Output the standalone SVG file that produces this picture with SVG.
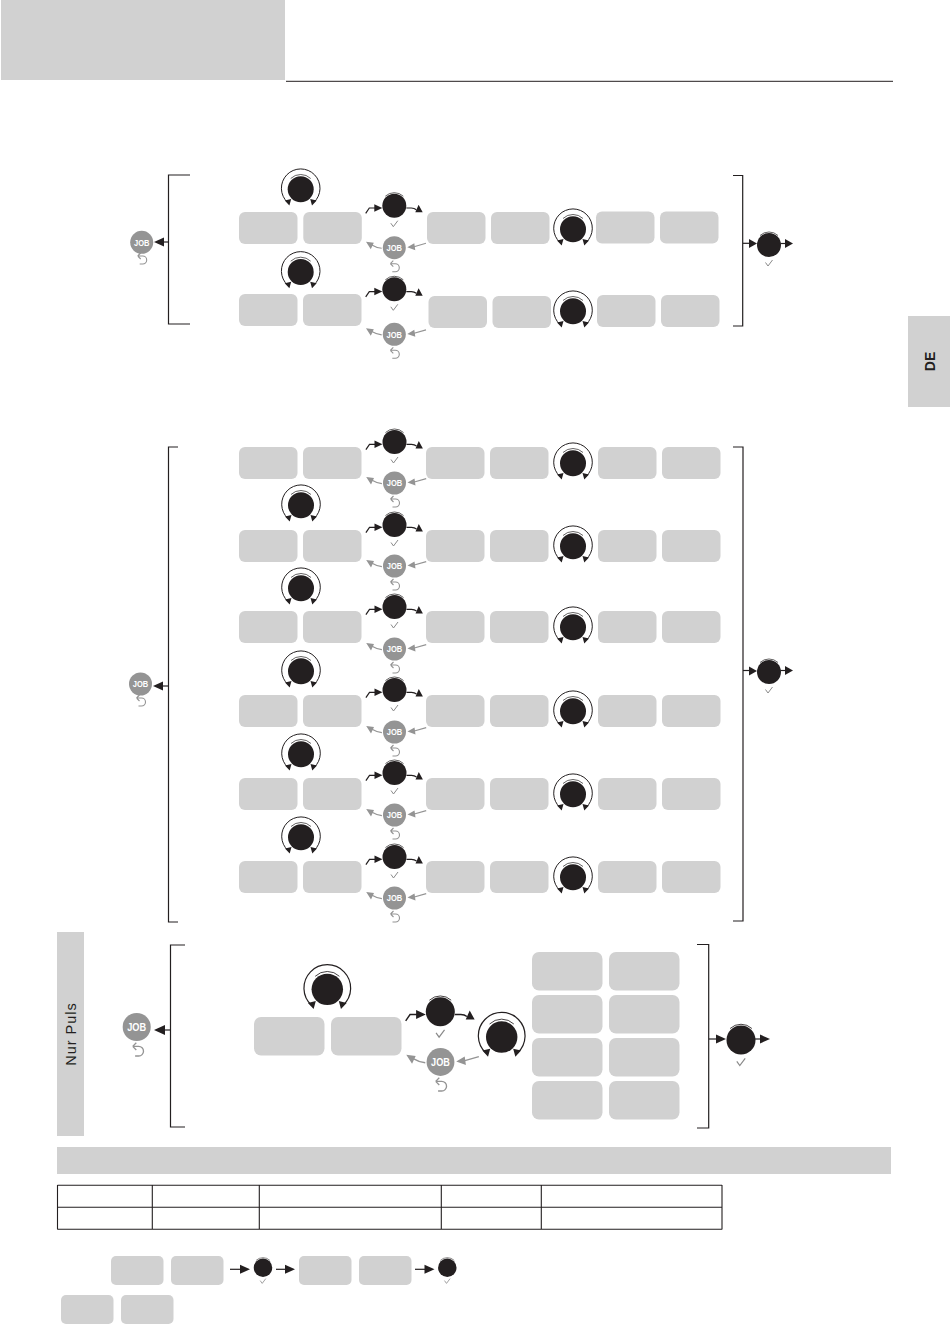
<svg xmlns="http://www.w3.org/2000/svg" width="950" height="1344" viewBox="0 0 950 1344">
<style>
.p{fill:#d1d1d1}
.l{fill:none;stroke:#231f20;stroke-width:1.2}
.g{fill:none;stroke:#949494;stroke-width:1.1}
.a{fill:#231f20}
.b{fill:#949494}
.t{font-family:"Liberation Sans",Arial,sans-serif;font-weight:700;fill:#fff;text-anchor:middle}
</style>
<defs>
<rect id="r1" class="p" x="0" y="0" width="58.5" height="32" rx="6"/>
<rect id="r2" class="p" x="0" y="0" width="70.5" height="38.5" rx="7"/>
<rect id="r3" class="p" x="0" y="0" width="52.5" height="29" rx="5"/>
<path id="mark" d="M-3.5 -0.5 L-1 3 L3.5 -3" fill="none" stroke="#8a8a8a" stroke-width="1"/>
<path id="undo" d="M-4 -3 L-1 -6 M-4 -3 L-1 0 M-4 -3 H1 A3.8 3.8 0 0 1 1 5 H-2" fill="none" stroke="#949494" stroke-width="1.1"/>
<g id="knob"><circle class="a" cx="0" cy="0.3" r="13"/><path d="M-10 -10.500 A14.500 14.500 0 0 1 10 -10.500" fill="none" stroke="#231f20" stroke-width=".7"/><path d="M-13 13.500 A19.300 19.300 0 1 1 13 13.500" fill="none" stroke="#231f20" stroke-width="1"/><path class="a" d="M-11.300 16.500 L-16 11.500 L-9.500 10Z M11.300 16.500 L16 11.500 L9.500 10Z"/></g>
<g id="btn"><circle class="a" cx="0" cy="0" r="12"/><path d="M-9 -9.500 A13.300 13.300 0 0 1 9 -9.500" fill="none" stroke="#231f20" stroke-width=".7"/></g>
<g id="job"><circle class="b" cx="0" cy="0" r="11.500"/><text class="t" x="0" y="3.300" font-size="9.500" textLength="15.500" lengthAdjust="spacingAndGlyphs">JOB</text></g>
<g id="go"><use href="#btn"/><use href="#mark" y="18"/><path class="l" d="M-28.600 7.600 L-25 2.300 L-17 2.300 M12 2.300 H17 Q20 2.300 22 4"/><path class="a" d="M-12 2.300 L-20 -1.500 L-20 6Z M21 6.500 L28.400 6.500 L24.300 -1Z"/></g>
<g id="back"><use href="#job"/><use href="#undo" y="19"/><path class="g" d="M-12.600 0.600 Q-18 0 -23 -3 M31.700 -4.400 L18 -0.500"/><path class="b" d="M-28.300 -6 L-20.500 -5 L-23.500 1.500Z M13 -0.400 L20 -4.500 L21 2.500Z"/></g>
<g id="row"><use href="#r1"/><use href="#r1" x="64"/><use href="#r1" x="187"/><use href="#r1" x="251"/><use href="#knob" x="334" y="16"/><use href="#r1" x="359"/><use href="#r1" x="423"/></g>
</defs>
<g id="header"><rect class="p" x="1" y="0" width="284" height="80"/><path d="M286 81.300 H893" fill="none" stroke="#231f20" stroke-width="1"/></g>
<g id="tab-de"><rect class="p" x="908" y="316" width="42" height="91"/><text transform="translate(935 361.500) rotate(-90)" font-family="Liberation Sans,Arial,sans-serif" font-size="14" font-weight="700" fill="#231f20" text-anchor="middle">DE</text></g>
<g id="section-1">
<g id="s1-row1"><use href="#r1" x="239" y="212"/><use href="#r1" x="303.300" y="212"/><use href="#r1" x="427" y="212"/><use href="#r1" x="491" y="212"/><use href="#knob" x="573" y="229"/><use href="#r1" x="596" y="211.500"/><use href="#r1" x="660" y="211.500"/></g>
<g id="s1-row2"><use href="#r1" x="239" y="294"/><use href="#r1" x="303" y="294"/><use href="#r1" x="428.500" y="296"/><use href="#r1" x="492.500" y="296"/><use href="#knob" x="573" y="311"/><use href="#r1" x="597" y="295"/><use href="#r1" x="661" y="295"/></g>
<use href="#knob" x="300.700" y="189"/><use href="#knob" x="300.700" y="271.700"/>
<use href="#go" x="394.300" y="205.700"/><use href="#back" x="394.300" y="247.700"/>
<use href="#go" x="394.300" y="289.300"/><use href="#back" x="394.300" y="334.300"/>
<use href="#job" x="141.700" y="242.300"/><use href="#undo" x="141.700" y="259"/>
<use href="#btn" x="769" y="245"/><use href="#mark" x="769" y="263"/>
</g>
<g id="section-2">
<use href="#row" x="239" y="447"/><use href="#row" x="239" y="530"/><use href="#row" x="239" y="611"/><use href="#row" x="239" y="695"/><use href="#row" x="239" y="778"/><use href="#row" x="239" y="861"/>
<use href="#knob" x="301" y="505"/><use href="#knob" x="301" y="588"/><use href="#knob" x="301" y="671"/><use href="#knob" x="301" y="754"/><use href="#knob" x="301" y="837"/>
<use href="#go" x="394.500" y="442"/><use href="#go" x="394.500" y="525"/><use href="#go" x="394.500" y="607"/><use href="#go" x="394.500" y="690"/><use href="#go" x="394.500" y="773"/><use href="#go" x="394.500" y="857"/>
<use href="#back" x="394.500" y="483"/><use href="#back" x="394.500" y="566"/><use href="#back" x="394.500" y="649"/><use href="#back" x="394.500" y="732"/><use href="#back" x="394.500" y="815"/><use href="#back" x="394.500" y="898"/>
<use href="#job" x="140.500" y="684"/><use href="#undo" x="140.500" y="701"/>
<use href="#btn" x="769" y="672"/><use href="#mark" x="769" y="690"/>
</g>
<g id="section-3">
<rect class="p" x="57" y="932" width="27" height="204"/>
<text transform="translate(76 1034) rotate(-90)" font-family="Liberation Sans,Arial,sans-serif" font-size="14.500" letter-spacing="1" fill="#231f20" text-anchor="middle">Nur Puls</text>
<use href="#job" transform="translate(136.700 1027) scale(1.22)"/><use href="#undo" transform="translate(137.500 1050) scale(1.2)"/>
<use href="#knob" transform="translate(327.300 989) scale(1.21)"/>
<use href="#r2" x="254" y="1017"/><use href="#r2" x="331" y="1017"/>
<use href="#go" transform="translate(440.300 1011.700) scale(1.21)"/>
<use href="#back" transform="translate(440.500 1062) scale(1.21)"/>
<use href="#knob" transform="translate(501.700 1036.700) scale(1.21)"/>
<g id="grid"><use href="#r2" x="532" y="952"/><use href="#r2" x="609" y="952"/><use href="#r2" x="532" y="995"/><use href="#r2" x="609" y="995"/><use href="#r2" x="532" y="1038"/><use href="#r2" x="609" y="1038"/><use href="#r2" x="532" y="1081"/><use href="#r2" x="609" y="1081"/></g>
<use href="#btn" transform="translate(741 1040) scale(1.21)"/><use href="#mark" transform="translate(741 1062) scale(1.2)"/>
</g>
<g id="bottom">
<rect class="p" x="57" y="1147" width="834" height="27"/>
<path d="M57.500 1185.300 H722 M57.500 1207.300 H722 M57.500 1229.300 H722 M57.500 1185 V1229.500 M152.300 1185 V1229.500 M259.300 1185 V1229.500 M441.300 1185 V1229.500 M541.300 1185 V1229.500 M722 1185 V1229.500" fill="none" stroke="#231f20" stroke-width="1.100"/>
<use href="#r3" x="111" y="1256"/><use href="#r3" x="171" y="1256"/><use href="#r3" x="299" y="1256"/><use href="#r3" x="359" y="1256"/><use href="#r3" x="61" y="1295"/><use href="#r3" x="121" y="1295"/>
<use href="#btn" transform="translate(263 1267.700) scale(.77)"/><use href="#mark" transform="translate(263 1281) scale(.8)"/>
<use href="#btn" transform="translate(447.300 1267.700) scale(.77)"/><use href="#mark" transform="translate(447.300 1281) scale(.8)"/>
</g>
<g id="connectors">
<path class="l" d="M190 175 H168.500 V324 H190"/><path class="l" d="M168.500 242 H158"/><path class="a" d="M154 242 L164 237.500 L164 246.500Z"/>
<path class="l" d="M733 175.500 H742.700 V326 H733"/><path class="l" d="M743 243.300 H752"/><path class="a" d="M757 243.500 L749 239 L749 248Z"/><path class="l" d="M781 243.500 H788"/><path class="a" d="M793 243.500 L785 239 L785 248Z"/>
<path class="l" d="M178 447 H168.500 V922 H178"/><path class="l" d="M168.500 686 H158"/><path class="a" d="M153 686 L163 681.500 L163 690.500Z"/>
<path class="l" d="M733 447 H743 V921 H733"/><path class="l" d="M743 670.500 H752"/><path class="a" d="M757 671 L749 666.500 L749 675.500Z"/><path class="l" d="M781 670.500 H788"/><path class="a" d="M793 670.500 L785 666 L785 675Z"/>
<path class="l" d="M185 945 H170.500 V1127 H185"/><path class="l" d="M170.500 1030 H158"/><path class="a" d="M154 1030 L165 1025 L165 1035Z"/>
<path class="l" d="M697 944.500 H708.700 V1128 H697"/><path class="l" d="M709 1039 H720"/><path class="a" d="M726 1039 L716 1034.500 L716 1043.500Z"/><path class="l" d="M755 1039 H762"/><path class="a" d="M770 1039 L760 1034.500 L760 1043.500Z"/>
<path class="l" d="M230 1269.300 H246"/><path class="a" d="M250 1269.300 L240 1264.800 L240 1273.800Z"/><path class="l" d="M276 1269.300 H290"/><path class="a" d="M295 1269.300 L285 1264.800 L285 1273.800Z"/><path class="l" d="M415 1269.300 H431"/><path class="a" d="M434.500 1269.300 L424.500 1264.800 L424.500 1273.800Z"/>
</g>
</svg>
